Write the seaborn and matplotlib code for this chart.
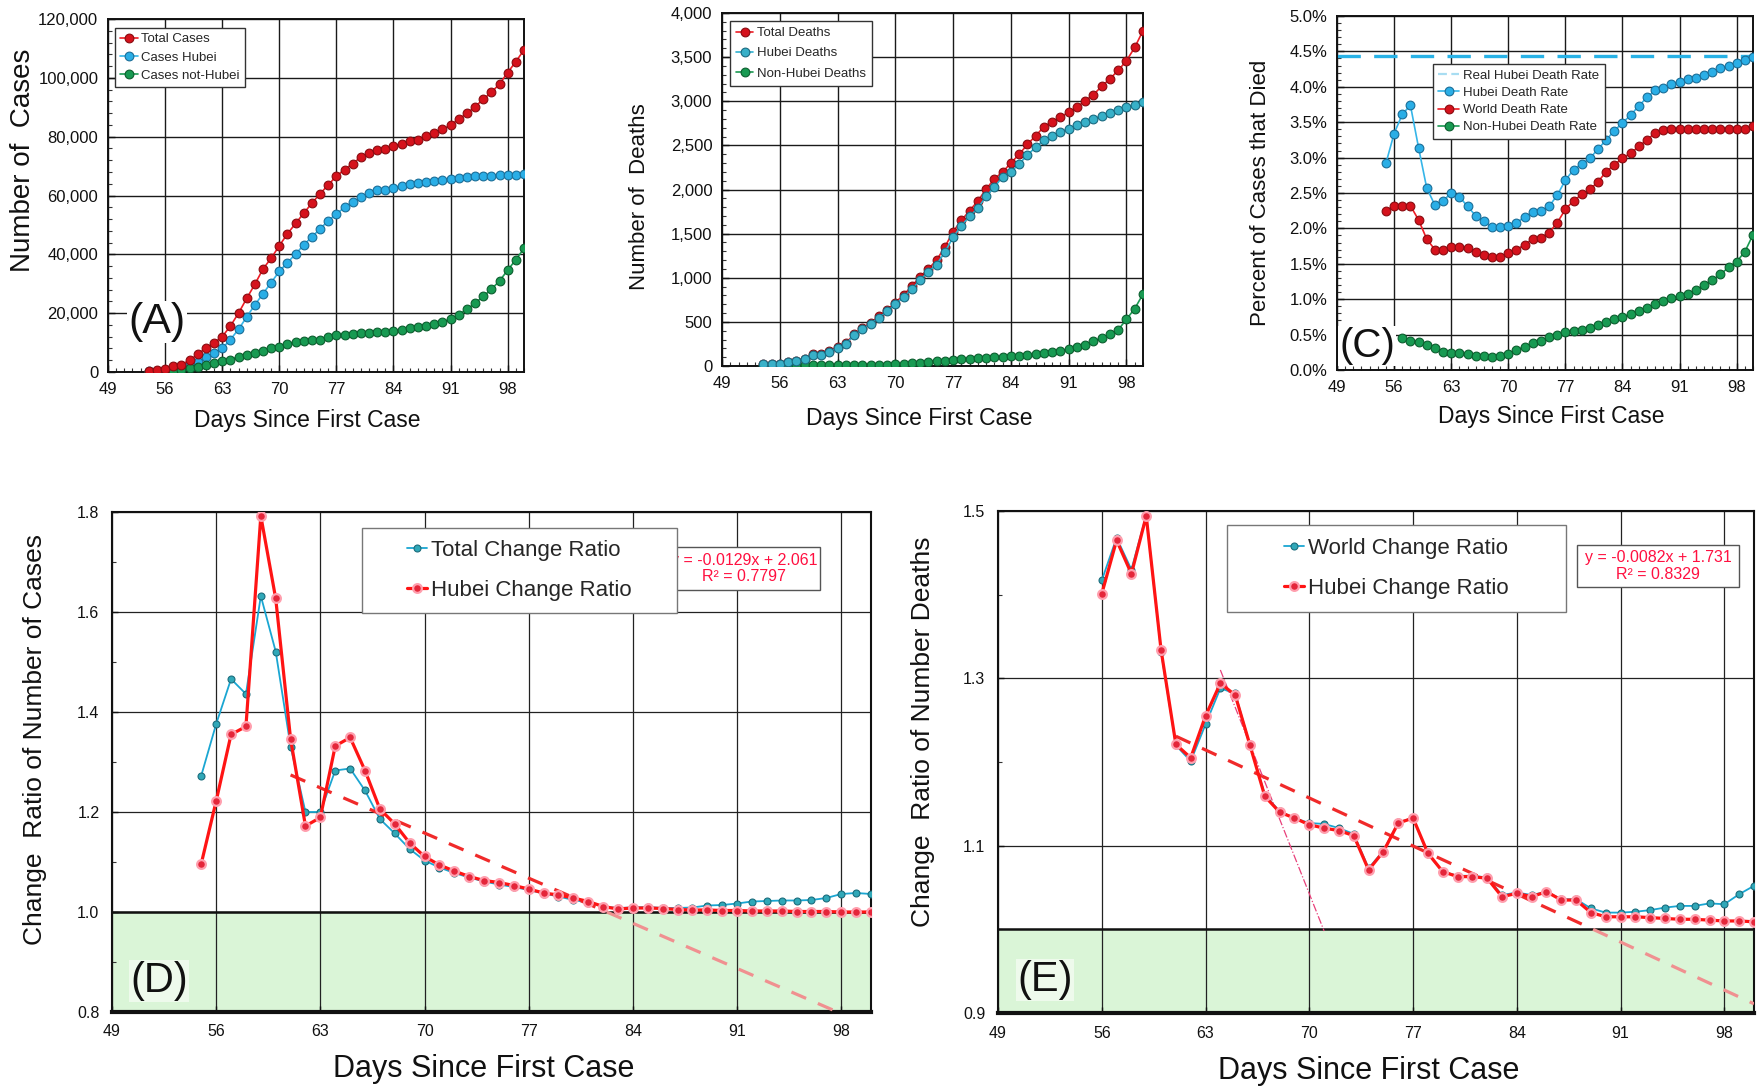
import numpy as np
import pandas as pd
import matplotlib
matplotlib.use("Agg")
import matplotlib.pyplot as plt
from matplotlib.ticker import MultipleLocator, FuncFormatter
from matplotlib.patches import Rectangle
from matplotlib.lines import Line2D
import seaborn as sns

# ---------------- data ----------------
days_ab = list(range(54, 101))          # panels A and B
days_c = list(range(55, 101))           # Hubei / world death rate
days_c_nh = list(range(57, 101))        # non-Hubei death rate
days_d = list(range(55, 101))           # change ratio of cases
days_e = list(range(56, 101))           # change ratio of deaths
day_ticks = [49, 56, 63, 70, 77, 84, 91, 98]

total_cases = [500, 600, 1000, 2000, 2500, 4000, 6000, 8200, 9900, 12000,
               15600, 20000, 25000, 29800, 35000, 38700, 42900, 47000, 50500, 54000,
               57400, 60600, 63600, 66600, 68800, 70800, 73100, 74500, 75400, 75800,
               76700, 77600, 78600, 79000, 80200, 81300, 82500, 83900, 86000, 87900,
               90200, 92700, 95100, 97900, 101800, 105500, 109500]
hubei_cases = [450, 500, 700, 1000, 1500, 2700, 3500, 5000, 6500, 8000,
               11000, 14500, 18700, 22800, 26600, 30400, 34200, 37200, 40100, 43200,
               46000, 48600, 51500, 53700, 56000, 57800, 59400, 60800, 61700, 62000,
               62600, 63300, 63800, 64200, 64700, 65000, 65300, 65700, 66000, 66300,
               66500, 66600, 66700, 66800, 66950, 67050, 67200]
nonhubei_cases = [50, 100, 200, 400, 800, 1300, 1700, 2500, 3000, 3800,
                  4200, 5200, 5800, 6500, 7100, 8000, 8500, 9500, 10200, 10500,
                  10800, 11000, 12000, 12500, 12700, 12900, 13200, 13300, 13500, 13700,
                  14000, 14400, 14800, 15200, 15600, 16200, 17000, 18000, 19500, 21300,
                  23400, 25700, 28100, 31000, 34600, 38200, 42000]

total_deaths = [17, 18, 26, 42, 56, 82, 131, 133, 171, 213,
                259, 362, 426, 492, 564, 634, 719, 806, 906, 1013,
                1100, 1200, 1350, 1523, 1650, 1762, 1870, 2007, 2120, 2200,
                2300, 2400, 2510, 2610, 2710, 2770, 2820, 2875, 2935, 3005,
                3075, 3170, 3255, 3350, 3460, 3610, 3800]
hubei_deaths = [17, 17, 24, 40, 52, 76, 125, 125, 162, 204,
                249, 350, 414, 479, 549, 618, 699, 780, 871, 974,
                1068, 1150, 1290, 1460, 1590, 1696, 1789, 1921, 2029, 2144,
                2200, 2290, 2390, 2480, 2560, 2610, 2650, 2690, 2730, 2770,
                2800, 2835, 2870, 2900, 2930, 2960, 2986]
nonhubei_deaths = [0, 1, 2, 2, 4, 6, 6, 8, 9, 9,
                   10, 12, 12, 13, 15, 16, 20, 26, 35, 39,
                   45, 52, 60, 68, 75, 80, 88, 94, 100, 106,
                   110, 118, 125, 134, 145, 160, 175, 190, 210, 235,
                   280, 320, 360, 410, 530, 650, 815]

hubei_rate = [2.92, 3.34, 3.61, 3.74, 3.14, 2.57, 2.33, 2.39, 2.50, 2.45,
              2.31, 2.18, 2.10, 2.02, 2.02, 2.04, 2.08, 2.16, 2.23, 2.25,
              2.31, 2.47, 2.68, 2.83, 2.91, 2.99, 3.12, 3.25, 3.38, 3.49,
              3.60, 3.73, 3.85, 3.95, 3.99, 4.04, 4.07, 4.11, 4.13, 4.17,
              4.21, 4.26, 4.29, 4.34, 4.38, 4.42]
world_rate = [2.25, 2.32, 2.32, 2.32, 2.12, 1.85, 1.70, 1.69, 1.74, 1.74,
              1.72, 1.67, 1.62, 1.60, 1.60, 1.65, 1.70, 1.77, 1.85, 1.87,
              1.94, 2.08, 2.27, 2.39, 2.48, 2.55, 2.66, 2.80, 2.90, 2.99,
              3.06, 3.16, 3.25, 3.35, 3.39, 3.41, 3.41, 3.41, 3.41, 3.41,
              3.41, 3.41, 3.41, 3.40, 3.40, 3.45]
nonhubei_rate = [0.45, 0.41, 0.39, 0.36, 0.31, 0.26, 0.24, 0.24, 0.22, 0.20,
                 0.20, 0.19, 0.20, 0.23, 0.28, 0.33, 0.38, 0.41, 0.46, 0.49,
                 0.53, 0.55, 0.57, 0.60, 0.64, 0.68, 0.72, 0.75, 0.79, 0.83,
                 0.87, 0.93, 0.97, 1.01, 1.05, 1.08, 1.13, 1.20, 1.27, 1.35,
                 1.45, 1.53, 1.67, 1.91]
real_hubei_rate = 4.43

total_ratio = [1.273, 1.376, 1.466, 1.436, 1.632, 1.521, 1.331, 1.200, 1.200, 1.283,
               1.287, 1.243, 1.186, 1.157, 1.126, 1.103, 1.089, 1.078, 1.069, 1.061,
               1.055, 1.050, 1.044, 1.037, 1.031, 1.024, 1.019, 1.011, 1.008, 1.009,
               1.010, 1.008, 1.008, 1.009, 1.013, 1.014, 1.017, 1.021, 1.022, 1.023,
               1.023, 1.024, 1.028, 1.036, 1.038, 1.036]
hubei_ratio_cases = [1.097, 1.222, 1.355, 1.371, 1.792, 1.627, 1.346, 1.172, 1.189, 1.332,
                     1.349, 1.283, 1.206, 1.176, 1.138, 1.111, 1.094, 1.082, 1.071, 1.063,
                     1.059, 1.053, 1.046, 1.038, 1.034, 1.028, 1.021, 1.011, 1.006, 1.008,
                     1.008, 1.007, 1.005, 1.004, 1.004, 1.003, 1.003, 1.002, 1.002, 1.002,
                     1.001, 1.001, 1.001, 1.000, 1.000, 1.000]
fit_d = {"slope": -0.0129, "intercept": 2.061, "r2": 0.7797, "start": 61}

world_ratio = [1.417, 1.468, 1.430, 1.495, 1.332, 1.220, 1.201, 1.245, 1.288, 1.282,
               1.220, 1.161, 1.141, 1.133, 1.127, 1.126, 1.121, 1.114, 1.073, 1.094,
               1.128, 1.133, 1.090, 1.069, 1.064, 1.064, 1.062, 1.041, 1.044, 1.041,
               1.045, 1.036, 1.036, 1.025, 1.020, 1.020, 1.021, 1.023, 1.026, 1.028,
               1.028, 1.031, 1.030, 1.042, 1.052]
hubei_ratio_deaths = [1.401, 1.465, 1.425, 1.494, 1.334, 1.221, 1.205, 1.255, 1.294, 1.280,
                      1.220, 1.159, 1.140, 1.133, 1.125, 1.121, 1.118, 1.112, 1.071, 1.093,
                      1.127, 1.133, 1.091, 1.069, 1.063, 1.063, 1.061, 1.039, 1.043, 1.039,
                      1.045, 1.035, 1.035, 1.020, 1.015, 1.015, 1.015, 1.014, 1.013, 1.012,
                      1.012, 1.011, 1.010, 1.010, 1.009]
fit_e = {"slope": -0.0082, "intercept": 1.731, "r2": 0.8329, "start": 61}
steep_fit_x = [64, 71]
steep_fit_y = [1.31, 0.998]

# ---------------- style ----------------
sns.set_theme(style="white")
plt.rcParams["font.family"] = ["Liberation Sans", "DejaVu Sans"]
plt.rcParams["axes.unicode_minus"] = False

RED_LINE, RED_FACE, RED_EDGE = "#ee1c25", "#d5121c", "#8a0b10"
BLUE_LINE, BLUE_FACE, BLUE_EDGE = "#35b5e8", "#2aaee6", "#1a6e98"
TEAL_LINE, TEAL_FACE, TEAL_EDGE = "#2fb0d0", "#38b0c8", "#1a6a80"
GREEN_LINE, GREEN_FACE, GREEN_EDGE = "#1a9a52", "#189a52", "#0b5e2e"
FILL_GREEN = "#daf5d7"

W, H = 1758, 1086
fig = plt.figure(figsize=(W / 100, H / 100), dpi=100)


def px_axes(l, t, r, b):
    return fig.add_axes([l / W, 1 - b / H, (r - l) / W, (b - t) / H])


def series(ax, x, y, label, line, face, edge, lw=1.2, ms=6.3, mew=0.8, z=3):
    sns.lineplot(x=x, y=y, ax=ax, color=line, linewidth=lw, marker="o",
                 markersize=ms, markerfacecolor=face, markeredgecolor=edge,
                 markeredgewidth=mew, label=label, zorder=z)


def frame(ax, ylim, yfmt, ymajor, yminor, xminor, lab_size, grid_lw=1.0,
          bottom_lw=1.4):
    ax.set_xlim(49, 100)
    ax.set_ylim(*ylim)
    ax.set_xticks(day_ticks)
    ax.yaxis.set_major_locator(MultipleLocator(ymajor))
    ax.yaxis.set_minor_locator(MultipleLocator(yminor))
    if xminor:
        ax.xaxis.set_minor_locator(MultipleLocator(1))
    ax.yaxis.set_major_formatter(FuncFormatter(yfmt))
    ax.grid(True, which="major", color="#1a1a1a", linewidth=grid_lw)
    ax.set_axisbelow(True)
    ax.tick_params(which="major", direction="in", length=5, width=1,
                   labelsize=lab_size, pad=7, colors="#111")
    ax.tick_params(which="minor", direction="in", length=3, width=0.8,
                   color="#333")
    ax.tick_params(axis="x", which="both", bottom=True)
    ax.tick_params(axis="y", which="both", left=True)
    for s in ax.spines.values():
        s.set_color("#111")
        s.set_linewidth(1.4)
    ax.spines["bottom"].set_linewidth(bottom_lw)


def labels(ax, xlab, ylab, xpos, ypos, xsize, ysize):
    ax.set_xlabel(xlab, fontsize=xsize, color="#111")
    ax.set_ylabel(ylab, fontsize=ysize, color="#111")
    ax.xaxis.set_label_coords(*xpos)
    ax.yaxis.set_label_coords(*ypos)


def panel_tag(ax, tag, x, y, size, alpha=1.0):
    ax.text(x, y, tag, transform=ax.transAxes, fontsize=size, ha="center",
            va="center", color="#111", zorder=4,
            bbox=dict(facecolor="white", edgecolor="none", pad=1, alpha=alpha))


def comma(v, _):
    return f"{int(round(v)):,}"


# ---------------- (A) cases ----------------
axA = px_axes(108, 19, 524, 372)
series(axA, days_ab, total_cases, "Total Cases", RED_LINE, RED_FACE, RED_EDGE, z=4)
series(axA, days_ab, hubei_cases, "Cases Hubei", BLUE_LINE, BLUE_FACE, BLUE_EDGE, z=3)
series(axA, days_ab, nonhubei_cases, "Cases not-Hubei", GREEN_LINE, GREEN_FACE, GREEN_EDGE, z=3)
frame(axA, (0, 120000), comma, 20000, 4000, True, 12)
labels(axA, "Days Since First Case", "Number of  Cases", (0.48, -0.105), (-0.172, 0.60), 16.5, 20)
axA.legend(loc="upper left", bbox_to_anchor=(0.017, 0.975), borderaxespad=0,
           fontsize=9.5, fancybox=False, edgecolor="#333", framealpha=1,
           handlelength=1.3, handletextpad=0.3, labelspacing=0.45, borderpad=0.4)
panel_tag(axA, "(A)", 0.118, 0.142, 31)

# ---------------- (B) deaths ----------------
axB = px_axes(722, 13, 1143, 366)
series(axB, days_ab, total_deaths, "Total Deaths", RED_LINE, RED_FACE, RED_EDGE, z=3)
series(axB, days_ab, hubei_deaths, "Hubei Deaths", TEAL_LINE, TEAL_FACE, TEAL_EDGE, z=4)
series(axB, days_ab, nonhubei_deaths, "Non-Hubei Deaths", GREEN_LINE, GREEN_FACE, GREEN_EDGE, z=3)
frame(axB, (0, 4000), comma, 500, 100, True, 12)
labels(axB, "Days Since First Case", "Number of  Deaths", (0.468, -0.115), (-0.171, 0.48), 16.5, 16)
axB.legend(loc="upper left", bbox_to_anchor=(0.019, 0.977), borderaxespad=0,
           fontsize=9.5, fancybox=False, edgecolor="#333", framealpha=1,
           handlelength=1.3, handletextpad=0.3, labelspacing=0.6, borderpad=0.45)

# ---------------- (C) death rates ----------------
axC = px_axes(1337, 16, 1753, 370)
axC.axhline(real_hubei_rate, color="#29b2e6", linewidth=2.4, dashes=(7, 4),
            zorder=2.5, label="Real Hubei Death Rate")
series(axC, days_c, hubei_rate, "Hubei Death Rate", BLUE_LINE, BLUE_FACE, BLUE_EDGE)
series(axC, days_c, world_rate, "World Death Rate", RED_LINE, RED_FACE, RED_EDGE)
series(axC, days_c_nh, nonhubei_rate, "Non-Hubei Death Rate", GREEN_LINE, GREEN_FACE, GREEN_EDGE)
frame(axC, (0, 5.0), lambda v, _: f"{v:.1f}%", 0.5, 0.1, True, 12)
labels(axC, "Days Since First Case", "Percent of Cases that Died", (0.514, -0.10), (-0.159, 0.50), 16.5, 16)
hC, lC = axC.get_legend_handles_labels()
hC[0] = Line2D([], [], color="#a8ddf2", linewidth=1.6, dashes=(4, 2))
axC.legend(hC, lC, loc="upper left", bbox_to_anchor=(0.231, 0.864), borderaxespad=0,
           fontsize=9.5, fancybox=False, edgecolor="#333", framealpha=1,
           handlelength=1.6, handletextpad=0.3, labelspacing=0.38, borderpad=0.4)
panel_tag(axC, "(C)", 0.072, 0.068, 29)


# ---------------- (D) and (E) change ratios ----------------
def ratio_panel(ax, x, blue_y, red_y, blue_lab, red_lab, ylim, yticks, fit,
                fit_end, leg_box, note_box, tag_xy, ylab, ypos):
    ax.axhspan(ylim[0], 1.0, color=FILL_GREEN, zorder=0)
    ax.axhline(1.0, color="#111", linewidth=1.8, zorder=2)
    series(ax, x, blue_y, blue_lab, "#1aa6d2", "#30a8b8", "#1b6d7d",
           lw=1.3, ms=5.0, mew=0.8, z=3)
    series(ax, x, red_y, red_lab, "#ff1414", "#e4263a", "#ff9fae",
           lw=2.3, ms=6.3, mew=1.6, z=4)
    # linear fit, dark above the 1.0 line and pale below it
    x_cross = (fit["intercept"] - 1.0) / -fit["slope"]
    for xa, xb, col in [(fit["start"], x_cross, "#f02a2a"), (x_cross, fit_end, "#f09090")]:
        xs = np.array([xa, xb])
        ax.plot(xs, fit["intercept"] + fit["slope"] * xs, color=col, linewidth=2.3,
                dashes=(5, 4), zorder=3.5)
    ax.set_xlim(49, 100)
    ax.set_ylim(*ylim)
    ax.set_xticks(day_ticks)
    ax.set_yticks(yticks)
    ax.yaxis.set_minor_locator(MultipleLocator(0.1))
    ax.yaxis.set_major_formatter(FuncFormatter(lambda v, _: f"{v:.1f}"))
    ax.grid(True, which="major", color="#222", linewidth=0.9)
    ax.set_axisbelow(True)
    ax.tick_params(which="major", direction="in", length=4, width=1,
                   labelsize=11.5, pad=9, colors="#111")
    ax.tick_params(which="minor", direction="in", length=3, width=0.8, color="#333")
    ax.tick_params(axis="y", which="both", left=True)
    ax.tick_params(axis="x", which="both", bottom=True)
    for s in ax.spines.values():
        s.set_color("#111")
        s.set_linewidth(1.5)
    ax.spines["bottom"].set_linewidth(3.0)
    labels(ax, "Days Since First Case", ylab, (0.49, -0.085), ypos, 22, 19)

    # fit equation box (partly hidden behind the legend)
    nx0, ny0, nx1, ny1 = note_box
    ax.add_patch(Rectangle((nx0, ny0), nx1 - nx0, ny1 - ny0, transform=ax.transAxes,
                           facecolor="white", edgecolor="#555", linewidth=1.0, zorder=5))
    ax.text((nx0 + nx1) / 2, (ny0 + ny1) / 2,
            f"y = {fit['slope']:.4f}x + {fit['intercept']:.3f}\nR\u00b2 = {fit['r2']:.4f}",
            transform=ax.transAxes, ha="center", va="center", multialignment="center",
            fontsize=11.5, color="#ff1040", linespacing=1.15, zorder=5.5)

    # legend with a wide white frame
    lx0, ly0, lx1, ly1 = leg_box
    ax.add_patch(Rectangle((lx0, ly0), lx1 - lx0, ly1 - ly0, transform=ax.transAxes,
                           facecolor="white", edgecolor="#777", linewidth=1.0, zorder=6))
    h, l = ax.get_legend_handles_labels()
    leg = ax.legend(h, l, loc="center", bbox_to_anchor=((lx0 + lx1) / 2, (ly0 + ly1) / 2),
                    frameon=False, fontsize=16, handlelength=0.9, handletextpad=0.15,
                    labelspacing=0.85, borderaxespad=0)
    leg.set_zorder(7)
    panel_tag(ax, tag_xy[0], tag_xy[1], tag_xy[2], 30, alpha=0.55)


axD = px_axes(112, 512, 871, 1012)
ratio_panel(axD, days_d, total_ratio, hubei_ratio_cases,
            "Total Change Ratio", "Hubei Change Ratio",
            (0.8, 1.8), [0.8, 1.0, 1.2, 1.4, 1.6, 1.8], fit_d,
            (fit_d["intercept"] - 0.8) / -fit_d["slope"],
            (0.329, 0.798, 0.744, 0.968), (0.733, 0.844, 0.933, 0.930),
            ("(D)", 0.062, 0.062),
            "Change  Ratio of Number of Cases", (-0.086, 0.544))

axE = px_axes(998, 511, 1754, 1013)
ratio_panel(axE, days_e, world_ratio, hubei_ratio_deaths,
            "World Change Ratio", "Hubei Change Ratio",
            (0.9, 1.5), [0.9, 1.1, 1.3, 1.5], fit_e, 100,
            (0.303, 0.799, 0.751, 0.972), (0.766, 0.849, 0.980, 0.932),
            ("(E)", 0.062, 0.066),
            "Change  Ratio of Number Deaths", (-0.083, 0.56))
axE.plot(steep_fit_x, steep_fit_y, color="#e8407a", linewidth=0.9,
         linestyle="-.", zorder=3.6)

fig.savefig("out.png", dpi=100, facecolor="white")
